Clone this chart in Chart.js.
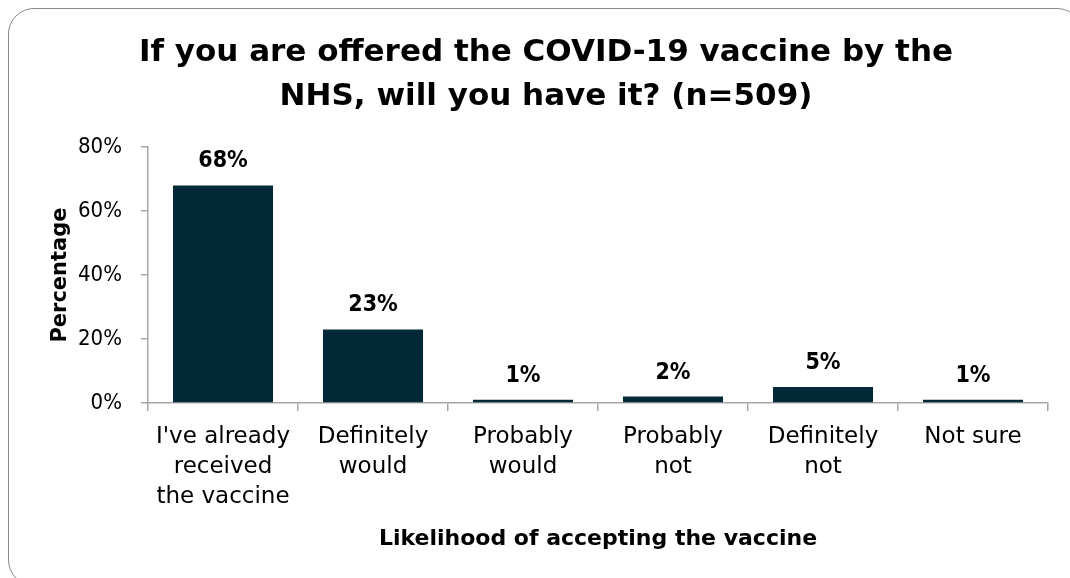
<!DOCTYPE html>
<html>
<head>
<meta charset="utf-8">
<script src="https://cdn.jsdelivr.net/npm/chart.js@4.4.1/dist/chart.umd.min.js"></script>
<style>
  html, body { margin: 0; padding: 0; background: #fff; }
  #wrap { position: relative; width: 1070px; height: 578px; overflow: hidden; }
  #frame {
    position: absolute; left: 8px; top: 8px; width: 1075px; height: 578px;
    border: 1.5px solid #8a8a8a; border-radius: 26px; box-sizing: border-box;
  }
  #chart { position: absolute; left: 0; top: 0; }
</style>
</head>
<body>
<div id="wrap">
  <div id="frame"></div>
  <canvas id="chart" width="1070" height="578"></canvas>
</div>
<script>
const FONT = '"DejaVu Sans", sans-serif';
const NUM_FONT = '"DejaVu Sans Condensed", "DejaVu Sans", sans-serif';

const categories = [
  ["I've already", "received", "the vaccine"],
  ["Definitely", "would"],
  ["Probably", "would"],
  ["Probably", "not"],
  ["Definitely", "not"],
  ["Not sure"]
];
const percentages = [68, 23, 1, 2, 5, 1];
const yTicks = [0, 20, 40, 60, 80];

const axisGrey = '#a6a6a6';
const barColour = '#032837';

// value labels above each bar
const barLabels = {
  id: 'barLabels',
  afterDatasetsDraw(chart) {
    const ctx = chart.ctx;
    const meta = chart.getDatasetMeta(0);
    ctx.save();
    ctx.font = 'bold 23px ' + NUM_FONT;
    ctx.fillStyle = '#000';
    ctx.textAlign = 'center';
    ctx.textBaseline = 'middle';
    meta.data.forEach((bar, i) => {
      ctx.fillText(percentages[i] + '%', bar.x, bar.y - 24);
    });
    ctx.restore();
  }
};

new Chart(document.getElementById('chart'), {
  type: 'bar',
  data: {
    labels: categories,
    datasets: [{
      data: percentages,
      backgroundColor: barColour,
      barPercentage: 0.667,
      categoryPercentage: 1.0
    }]
  },
  options: {
    responsive: false,
    animation: false,
    devicePixelRatio: 1,
    layout: { padding: { left: 44, right: 22, top: 0, bottom: 22 } },
    plugins: {
      legend: { display: false },
      tooltip: { enabled: false },
      title: {
        display: true,
        text: ['If you are offered the COVID-19 vaccine by the', 'NHS, will you have it? (n=509)'],
        color: '#000',
        font: { family: FONT, size: 31, weight: 'bold', lineHeight: 1.42 },
        padding: { top: 31, bottom: 28 }
      }
    },
    scales: {
      x: {
        afterFit(scale) { scale.height = 153; },
        grid: { display: true, drawOnChartArea: false, offset: true, tickLength: 8, color: axisGrey, lineWidth: 1.5 },
        border: { color: axisGrey, width: 1.5 },
        ticks: {
          color: '#000', maxRotation: 0, autoSkip: false, padding: 11,
          font: { family: FONT, size: 23, lineHeight: 1.3 }
        },
        title: {
          display: true, text: 'Likelihood of accepting the vaccine', color: '#000',
          font: { family: FONT, size: 22, weight: 'bold' },
          padding: { top: 4, bottom: 4 }
        }
      },
      y: {
        min: 0, max: 80,
        afterFit(scale) { scale.width = 104; },
        afterBuildTicks(scale) { scale.ticks = yTicks.map(v => ({ value: v })); },
        grid: { display: true, drawOnChartArea: false, tickLength: 7, color: axisGrey, lineWidth: 1.5 },
        border: { color: axisGrey, width: 1.5 },
        ticks: {
          color: '#000', padding: 19,
          font: { family: NUM_FONT, size: 22 },
          callback: v => v + '%'
        },
        title: {
          display: true, text: 'Percentage', color: '#000',
          font: { family: FONT, size: 21, weight: 'bold' },
          padding: { top: 4, bottom: 4 }
        }
      }
    }
  },
  plugins: [barLabels]
});
</script>
</body>
</html>
